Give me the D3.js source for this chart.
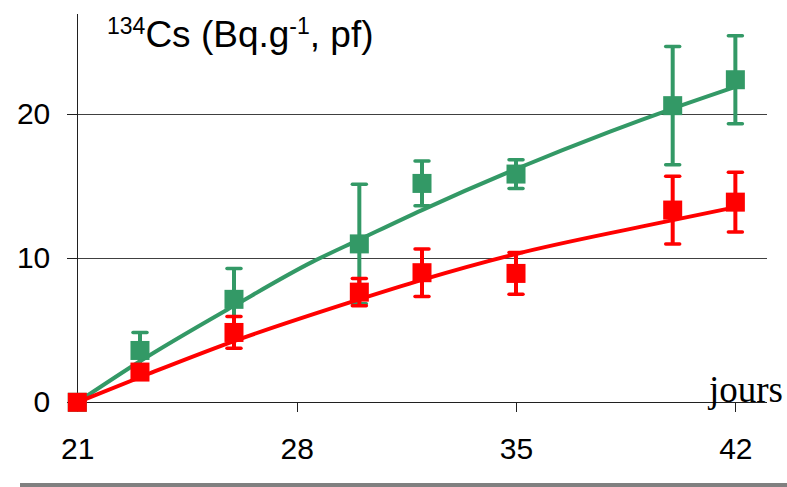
<!DOCTYPE html>
<html>
<head>
<meta charset="utf-8">
<script src="https://cdn.jsdelivr.net/npm/d3@7"></script>
<style>
  html, body { margin: 0; padding: 0; background: #fff; }
  svg { display: block; }
</style>
</head>
<body>
<svg id="chart" width="787" height="487"></svg>
<script>
// Sampling days and measured 134Cs activity (mean ± error) for the two treatments
const days = [21, 23, 26, 30, 32, 35, 40, 42];
const greenMean = [0, 3.6, 7.15, 11.0, 15.2, 15.85, 20.6, 22.4];
const greenErr  = [0, 1.25, 2.15, 4.15, 1.55, 1.0, 4.1, 3.05];
const redMean   = [0, 2.1, 4.85, 7.65, 9.0, 8.95, 13.35, 13.9];
const redErr    = [0, 0.4, 1.1, 0.95, 1.65, 1.45, 2.35, 2.07];

// Fitted trend curves (day, value)
const greenFitDays = [21, 23, 26, 28.5, 30, 32, 35, 38, 40, 42];
const greenFitVals = [0, 2.85, 6.7, 9.75, 11.3, 13.35, 16.2, 18.8, 20.4, 21.9];
const redFitDays = [21, 23.3, 26, 30, 32, 35, 39, 42];
const redFitVals = [0, 2.0, 4.25, 7.15, 8.5, 10.3, 12.2, 13.55];

// Axis ticks
const xTicks = [21, 28, 35, 42];
const yTicks = [0, 10, 20];
const gridValues = [10, 20];

const GREEN = "#339966";
const RED = "#ff0000";

const svg = d3.select("#chart");

const x = d3.scaleLinear().domain([21, 43]).range([77.3, 766.7]);
const y = d3.scaleLinear().domain([0, 27]).range([402.3, 13.5]);

// horizontal gridlines
svg.append("g")
  .selectAll("line")
  .data(gridValues)
  .join("line")
  .attr("x1", x(21)).attr("x2", x(43))
  .attr("y1", d => y(d)).attr("y2", d => y(d))
  .attr("stroke", "#404040").attr("stroke-width", 1)
  .attr("shape-rendering", "crispEdges");

// y axis
const yAxis = svg.append("g")
  .attr("transform", `translate(${x(21)},0)`)
  .call(d3.axisLeft(y).tickValues(yTicks).tickSize(10).tickSizeOuter(0).tickPadding(17).tickFormat(d3.format("d")));

// x axis
const xAxis = svg.append("g")
  .attr("transform", `translate(0,${y(0)})`)
  .call(d3.axisBottom(x).tickValues(xTicks).tickSize(10).tickSizeOuter(0).tickPadding(25).tickFormat(d3.format("d")));

[yAxis, xAxis].forEach(g => {
  g.selectAll("path.domain").attr("stroke", "#202020").attr("stroke-width", 1).attr("shape-rendering", "crispEdges");
  g.selectAll(".tick line").attr("stroke", "#202020").attr("stroke-width", 1).attr("shape-rendering", "crispEdges");
  g.selectAll(".tick text")
    .attr("fill", "#000")
    .style("font-family", "'Liberation Sans', Arial, sans-serif")
    .style("font-size", "30px");
});

// axis titles
svg.append("text")
  .attr("x", 783).attr("y", 402)
  .attr("text-anchor", "end")
  .style("font-family", "'Liberation Serif', 'Times New Roman', serif")
  .style("font-size", "37px")
  .text("jours");

const title = svg.append("text")
  .attr("x", 107).attr("y", 47)
  .style("font-family", "'Liberation Sans', Arial, sans-serif")
  .style("font-size", "37px");
title.append("tspan").attr("dy", "-13").style("font-size", "23px").text("134");
title.append("tspan").attr("dy", "13").text("Cs (Bq.g");
title.append("tspan").attr("dy", "-13").style("font-size", "23px").text("-1");
title.append("tspan").attr("dy", "13").text(", pf)");

// bottom rule
svg.append("rect")
  .attr("x", 20).attr("y", 483).attr("width", 767).attr("height", 4.5)
  .attr("fill", "#808080");

const line = d3.line().x(d => x(d[0])).y(d => y(d[1])).curve(d3.curveMonotoneX);

function drawSeries(mean, err, fitDays, fitVals, color) {
  const g = svg.append("g");
  const pts = days.map((d, i) => ({ day: d, v: mean[i], e: err[i] }));

  // error bars
  const eb = g.append("g").attr("stroke", color).attr("fill", "none");
  eb.selectAll("line.stem")
    .data(pts.filter(p => p.e > 0))
    .join("line")
    .attr("class", "stem")
    .attr("x1", p => x(p.day)).attr("x2", p => x(p.day))
    .attr("y1", p => y(p.v - p.e)).attr("y2", p => y(p.v + p.e))
    .attr("stroke-width", 4);
  const caps = pts.filter(p => p.e > 0).flatMap(p => [
    { day: p.day, v: p.v + p.e },
    { day: p.day, v: p.v - p.e }
  ]);
  eb.selectAll("line.cap")
    .data(caps)
    .join("line")
    .attr("class", "cap")
    .attr("x1", c => x(c.day) - 7).attr("x2", c => x(c.day) + 7)
    .attr("y1", c => y(c.v)).attr("y2", c => y(c.v))
    .attr("stroke-width", 3.5)
    .attr("stroke-linecap", "round");

  // fitted curve
  g.append("path")
    .datum(fitDays.map((d, i) => [d, fitVals[i]]))
    .attr("d", line)
    .attr("fill", "none")
    .attr("stroke", color)
    .attr("stroke-width", 4);

  // square markers
  const s = 19;
  g.selectAll("rect.marker")
    .data(pts)
    .join("rect")
    .attr("class", "marker")
    .attr("x", p => x(p.day) - s / 2)
    .attr("y", p => y(p.v) - s / 2)
    .attr("width", s).attr("height", s)
    .attr("fill", color);
}

drawSeries(greenMean, greenErr, greenFitDays, greenFitVals, GREEN);
drawSeries(redMean, redErr, redFitDays, redFitVals, RED);
</script>
</body>
</html>
